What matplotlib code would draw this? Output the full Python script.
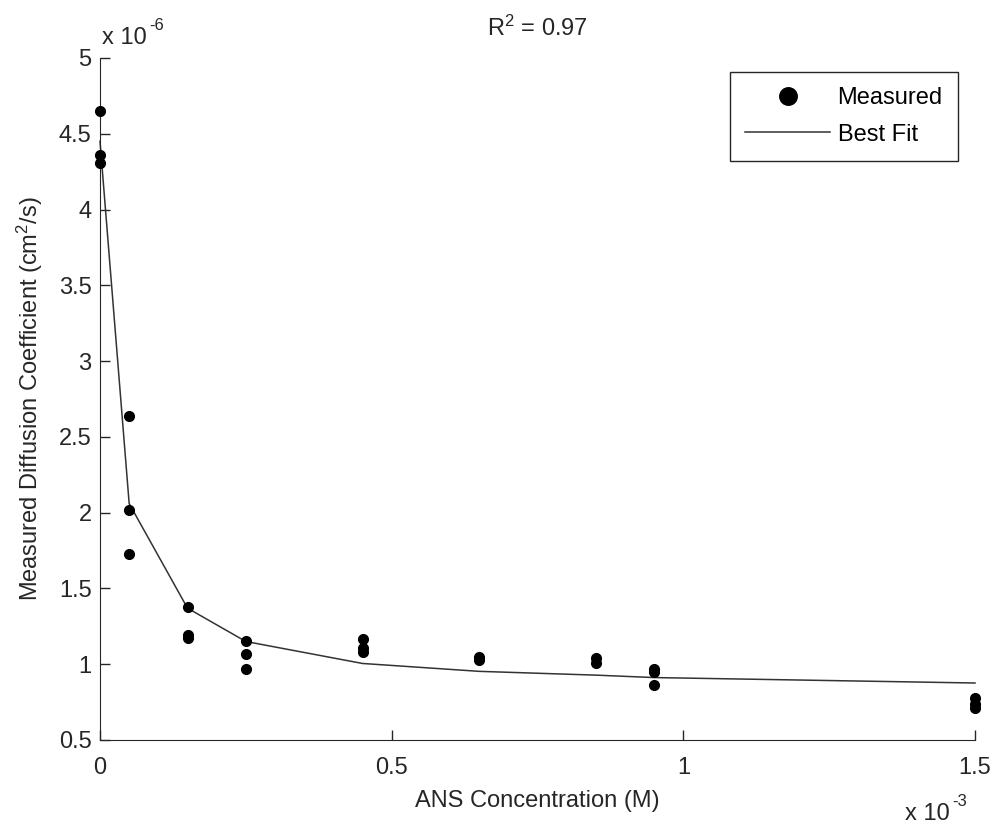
import numpy as np
import matplotlib
matplotlib.use("Agg")
import matplotlib.pyplot as plt
from matplotlib.ticker import FuncFormatter

plt.rcParams['font.family'] = ['Liberation Sans', 'DejaVu Sans']
plt.rcParams['mathtext.fontset'] = 'custom'
plt.rcParams['mathtext.rm'] = 'Liberation Sans'
plt.rcParams['mathtext.it'] = 'Liberation Sans'

# ANS concentration (M) and measured diffusion coefficient (cm^2/s)
conc = np.array([0, 0, 0, 0.05, 0.05, 0.05, 0.15, 0.15, 0.15, 0.25, 0.25, 0.25,
                 0.45, 0.45, 0.45, 0.65, 0.65, 0.85, 0.85, 0.95, 0.95, 0.95,
                 1.5, 1.5, 1.5]) * 1e-3
diff = np.array([4.65, 4.36, 4.31, 2.64, 2.02, 1.73, 1.38, 1.19, 1.17, 1.15, 1.07, 0.97,
                 1.165, 1.11, 1.08, 1.05, 1.025, 1.04, 1.01, 0.97, 0.95, 0.86,
                 0.78, 0.74, 0.71]) * 1e-6

fit_conc = np.array([0, 0.05, 0.15, 0.25, 0.45, 0.65, 0.85, 0.95, 1.5]) * 1e-3
fit_diff = np.array([4.45, 2.06, 1.37, 1.15, 1.005, 0.953, 0.928, 0.912, 0.876]) * 1e-6

xticks = np.array([0, 0.5, 1, 1.5]) * 1e-3
yticks = np.arange(0.5, 5.01, 0.5) * 1e-6

W, H = 991, 827
fig = plt.figure(figsize=(W / 100, H / 100), dpi=100)
ax = fig.add_axes([100 / W, 1 - 740 / H, 875 / W, 682 / H])

ax.plot(conc, diff, 'o', color='black', markersize=7, label='Measured', zorder=3, clip_on=False)
ax.plot(fit_conc, fit_diff, '-', color='#333333', linewidth=1.1, label='Best Fit', clip_on=False)

ax.set_xlim(0, 1.5e-3)
ax.set_ylim(0.5e-6, 5e-6)
ax.set_xticks(xticks)
ax.set_yticks(yticks)
ax.xaxis.set_major_formatter(FuncFormatter(lambda v, p: '%g' % round(v * 1e3, 6)))
ax.yaxis.set_major_formatter(FuncFormatter(lambda v, p: '%g' % round(v * 1e6, 6)))
ax.tick_params(direction='in', length=7, width=1, labelsize=17, colors='#262626')
ax.tick_params(axis='x', pad=12)
ax.tick_params(axis='y', pad=6)

for s in ['top', 'right']:
    ax.spines[s].set_visible(False)
for s in ['left', 'bottom']:
    ax.spines[s].set_color('#262626')

ax.set_xlabel('ANS Concentration (M)', fontsize=17, color='#262626', labelpad=8)
ax.set_ylabel('Measured Diffusion Coefficient (cm$^2$/s)', fontsize=17, color='#262626', labelpad=10)
ax.set_title('R$^2$ = 0.97', fontsize=17, color='#262626', pad=16)

# multiplier labels, MATLAB style with a short hyphen in the exponent
fig.text(102 / W, 1 - 44 / H, 'x 10', fontsize=17, color='#262626', va='baseline')
fig.text(149 / W, 1 - 30 / H, '-6', fontsize=12, color='#262626', va='baseline')
fig.text(905 / W, 1 - 820 / H, 'x 10', fontsize=17, color='#262626', va='baseline')
fig.text(952 / W, 1 - 806 / H, '-3', fontsize=12, color='#262626', va='baseline')

leg = ax.legend(loc='upper right', bbox_to_anchor=(958 / W, 1 - 72 / H),
                bbox_transform=fig.transFigure, borderaxespad=0, fancybox=False,
                framealpha=1, edgecolor='#262626', fontsize=17, markerscale=1.8,
                handlelength=3.6, handletextpad=0.3, labelspacing=0.6, borderpad=0.65)
leg.get_frame().set_linewidth(1)

fig.savefig('out.png', dpi=100)
